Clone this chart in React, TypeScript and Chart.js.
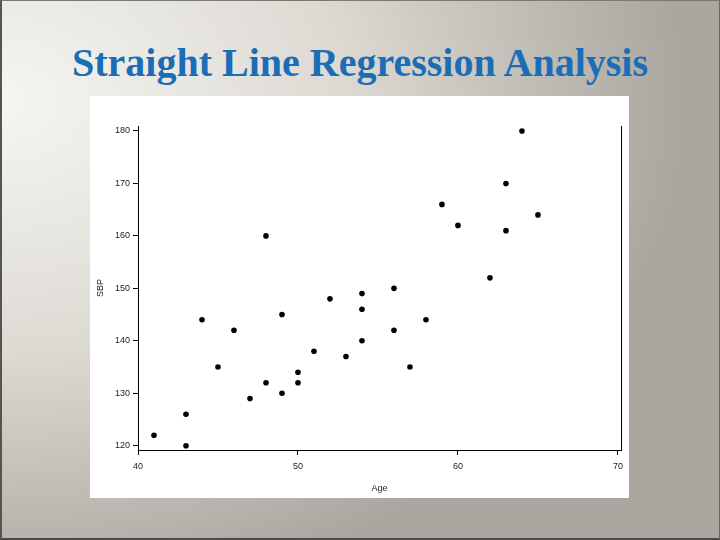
import React, { useEffect, useRef } from "react";
import { Chart, registerables } from "chart.js";

Chart.register(...registerables);

// Data: Age vs SBP
const ages = [41, 43, 43, 44, 45, 46, 47, 48, 48, 49, 49, 50, 50, 51, 52, 53, 54, 54, 54, 56, 56, 57, 58, 59, 60, 62, 63, 63, 64, 65];
const sbp = [122, 126, 120, 144, 135, 142, 129, 132, 160, 145, 130, 134, 132, 138, 148, 137, 149, 146, 140, 150, 142, 135, 144, 166, 162, 152, 170, 161, 180, 164];
const xTickValues = [40, 50, 60, 70];
const yTickValues = [120, 130, 140, 150, 160, 170, 180];
const titleText = "Straight Line Regression Analysis";
const xTitle = "Age";
const yTitle = "SBP";

export default function App() {
  const canvasRef = useRef<HTMLCanvasElement | null>(null);

  useEffect(() => {
    const canvas = canvasRef.current;
    if (!canvas) return;
    const points = ages.map((a, i) => ({ x: a, y: sbp[i] }));
    const tickFont = { family: "Arial, 'Liberation Sans', sans-serif", size: 9 };
    const chart = new Chart(canvas, {
      type: "scatter",
      data: {
        datasets: [
          {
            data: points,
            backgroundColor: "#000",
            borderColor: "#000",
            borderWidth: 0,
            pointRadius: 2.8,
          },
        ],
      },
      options: {
        responsive: false,
        animation: false,
        devicePixelRatio: 1,
        layout: { padding: { top: 30, left: 0, right: 0, bottom: 0 } },
        plugins: { legend: { display: false }, tooltip: { enabled: false } },
        scales: {
          x: {
            type: "linear",
            position: "bottom",
            min: 40,
            max: 70.2,
            afterBuildTicks: (s: any) => {
              s.ticks = xTickValues.map((v) => ({ value: v }));
            },
            afterFit: (s: any) => {
              s.height = 48;
            },
            grid: { display: true, drawOnChartArea: false, drawTicks: true, tickLength: 5, color: "#000" },
            border: { display: true, color: "#000", width: 1 },
            ticks: { font: tickFont, color: "#222", padding: 6, maxRotation: 0, autoSkip: false },
            title: { display: true, text: xTitle, font: tickFont, color: "#222", padding: { top: 0, bottom: 4 } },
          },
          y: {
            type: "linear",
            position: "left",
            min: 119.18,
            max: 180.95,
            afterBuildTicks: (s: any) => {
              s.ticks = yTickValues.map((v) => ({ value: v }));
            },
            afterFit: (s: any) => {
              s.width = 48;
            },
            grid: { display: true, drawOnChartArea: false, drawTicks: true, tickLength: 5, color: "#000" },
            border: { display: true, color: "#000", width: 1 },
            ticks: { font: tickFont, color: "#222", padding: 3, autoSkip: false },
            title: { display: true, text: yTitle, font: tickFont, color: "#222", padding: { top: 5, bottom: 0 } },
          },
          y2: {
            type: "linear",
            position: "right",
            display: true,
            afterFit: (s: any) => {
              s.width = 7;
            },
            grid: { display: false, drawTicks: false },
            border: { display: true, color: "#000", width: 1 },
            ticks: { display: false },
          },
        },
      },
    });
    return () => chart.destroy();
  }, []);

  return (
    <div
      style={{
        position: "absolute",
        left: 0,
        top: 0,
        width: 720,
        height: 540,
        overflow: "hidden",
        boxSizing: "border-box",
        borderLeft: "2px solid #55544f",
        borderBottom: "2px solid #4a4945",
        borderTop: "1px solid #7a7973",
        borderRight: "1px solid #6a6964",
        background:
          "radial-gradient(ellipse 680px 500px at 0px 100px, #f7f5f0 0%, #dcdad3 50%, #a9a79f 100%)",
      }}
    >
      <div
        style={{
          position: "absolute",
          left: -2,
          top: 42,
          width: 720,
          textAlign: "center",
          fontFamily: "'Liberation Serif', 'Times New Roman', serif",
          fontWeight: "bold",
          fontSize: 40,
          lineHeight: "40px",
          color: "#1b6db6",
          whiteSpace: "nowrap",
        }}
      >
        {titleText}
      </div>
      <canvas
        ref={canvasRef}
        width={539}
        height={402}
        style={{ position: "absolute", left: 88, top: 95, width: 539, height: 402, background: "#fff" }}
      />
    </div>
  );
}
